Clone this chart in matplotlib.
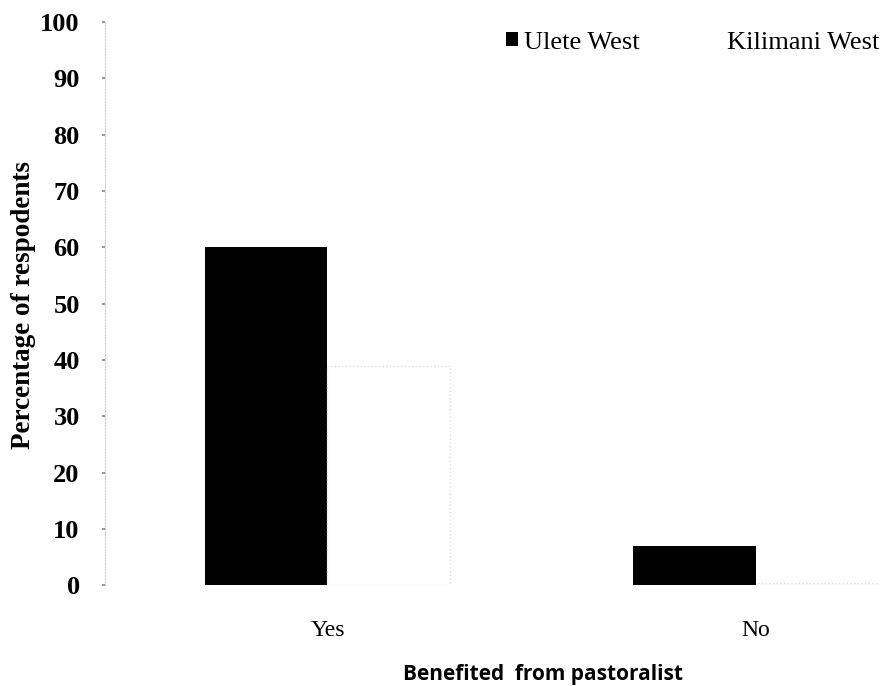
import matplotlib.pyplot as plt
import numpy as np

categories = ['Yes', 'No']
ulete_west = [60, 7]
kilimani_west = [39, 0.3]
yticks = list(range(0, 101, 10))

fig = plt.figure(figsize=(8.8, 6.86), dpi=100)
ax = fig.add_axes([0.119, 0.147, 0.881, 0.821])

x = np.arange(len(categories))
w = 0.286
ax.bar(x - w / 2, ulete_west, w, color='black', label='Ulete West')
ax.bar(x + w / 2, kilimani_west, w, color='white', edgecolor='#dddddd',
       linestyle=':', linewidth=1, label='Kilimani West')

ax.set_xlim(-0.52, 1.29)
ax.set_ylim(0, 100)
ax.set_yticks(yticks)
ax.set_yticklabels([str(t) for t in yticks], family='Liberation Serif',
                   fontweight='bold', fontsize=19)
ax.set_xticks(x)
ax.set_xticklabels(categories, family='Liberation Serif', fontsize=17)
ax.tick_params(axis='y', length=2, width=1.5, color='#999999', pad=16)
ax.tick_params(axis='x', length=0, pad=25)

for s in ['top', 'right', 'bottom']:
    ax.spines[s].set_visible(False)
ax.spines['left'].set_color('#cccccc')
ax.spines['left'].set_linestyle(':')

ax.set_ylabel('Percentage of respodents', family='Liberation Serif',
              fontweight='bold', fontsize=19.5)
ax.yaxis.set_label_coords(-0.088, 0.497)
ax.set_xlabel('Benefited  from pastoralist', family='Open Sans',
              fontweight='bold', fontsize=15)
ax.xaxis.set_label_coords(0.565, -0.14)

leg = ax.legend(loc='upper right', bbox_to_anchor=(1.03, 1.025), ncol=2,
                frameon=False, handlelength=0.45, handleheight=0.45,
                handletextpad=0.25, columnspacing=2.6,
                prop={'family': 'Liberation Serif', 'size': 19})
leg.legend_handles[1].set_edgecolor('white')

fig.savefig('out.png', dpi=100, facecolor='white')
